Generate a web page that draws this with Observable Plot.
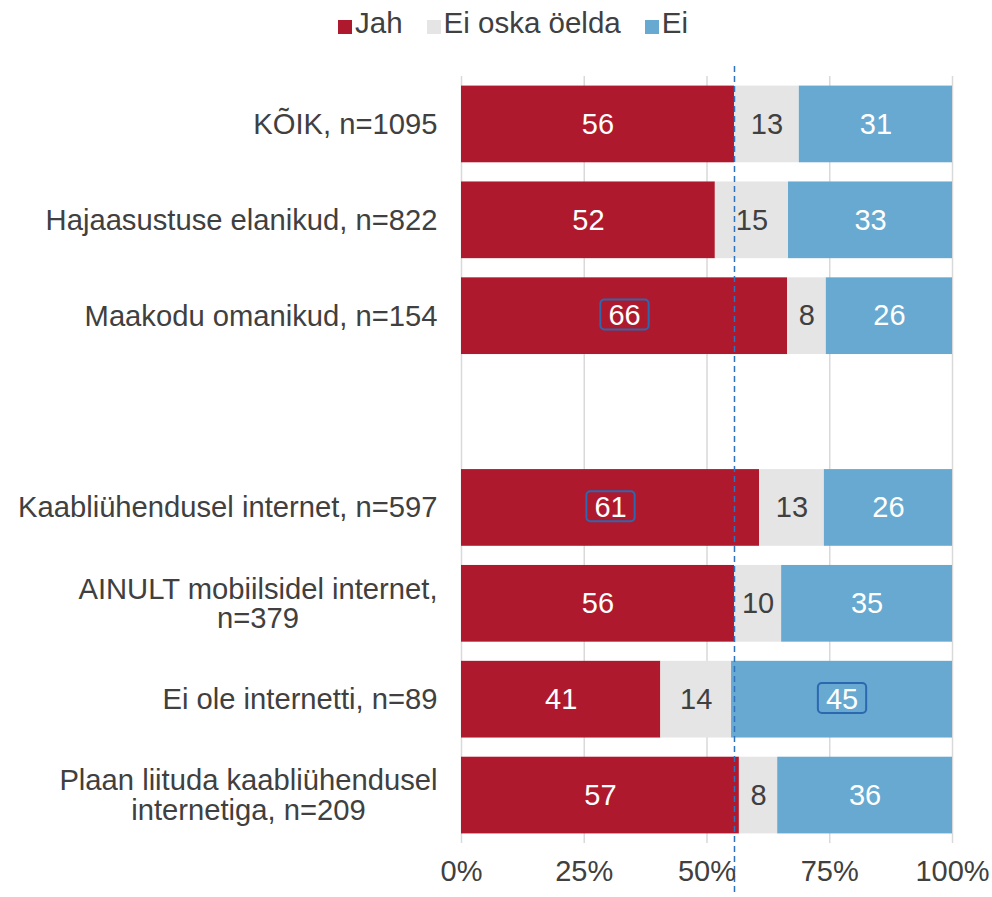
<!DOCTYPE html>
<html><head><meta charset="utf-8">
<script src="https://cdn.jsdelivr.net/npm/d3@7"></script>
<script src="https://cdn.jsdelivr.net/npm/@observablehq/plot@0.6"></script>
<style>
body{margin:0;background:#fff;font-family:"Liberation Sans",Arial,sans-serif;}
#legend{height:46px;display:flex;justify-content:center;align-items:center;padding-left:34px;font-size:29.5px;color:#404040;box-sizing:border-box;}
.item{display:flex;align-items:center;margin:0 12px;}
.sw{width:14px;height:14px;margin-right:3px;margin-top:7px}
#chart svg{display:block}
</style></head><body>
<div id="legend"></div>
<div id="chart"></div>
<script>
// ---- data ----
const categories = [
  "KÕIK, n=1095",
  "Hajaasustuse elanikud, n=822",
  "Maakodu omanikud, n=154",
  "",
  "Kaabliühendusel internet, n=597",
  "AINULT mobiilsidel internet,\nn=379",
  "Ei ole internetti, n=89",
  "Plaan liituda kaabliühendusel\ninternetiga, n=209"
];
const responses = ["Jah", "Ei oska öelda", "Ei"];
const colors = ["#AF192D", "#E5E5E5", "#67A9D0"];
const jah    = [55.6, 51.7, 66.4, null, 60.7, 55.6, 40.6, 56.6];
const eiOska = [13.2, 14.9,  7.9, null, 13.2,  9.6, 14.4,  7.8];
const ei     = [31.2, 33.4, 25.7, null, 26.1, 34.8, 45.0, 35.6];
const jahLabels    = [56, 52, 66, null, 61, 56, 41, 57];
const eiOskaLabels = [13, 15,  8, null, 13, 10, 14,  8];
const eiLabels     = [31, 33, 26, null, 26, 35, 45, 36];
const highlights = [
  ["Maakodu omanikud, n=154", "Jah"],
  ["Kaabliühendusel internet, n=597", "Jah"],
  ["Ei ole internetti, n=89", "Ei"]
];
const xTicks = [0, 25, 50, 75, 100];
const referenceValue = jah[0];

// ---- table ----
const series = [jah, eiOska, ei];
const labels = [jahLabels, eiOskaLabels, eiLabels];
const rows = [];
categories.forEach((c, i) => {
  if (jah[i] == null) return;
  responses.forEach((r, j) => rows.push({
    cat: c, resp: r, value: series[j][i], label: labels[j][i],
    hl: highlights.some(h => h[0] === c && h[1] === r)
  }));
});

// ---- legend ----
const leg = document.getElementById("legend");
responses.forEach((r, j) => {
  const it = document.createElement("div"); it.className = "item";
  const sw = document.createElement("div"); sw.className = "sw"; sw.style.background = colors[j];
  const tx = document.createElement("span"); tx.textContent = r;
  it.appendChild(sw); it.appendChild(tx); leg.appendChild(it);
});

const stackOpts = {x: "value", y: "cat", z: "resp", order: responses};
const chart = Plot.plot({
  width: 992, height: 851,
  marginLeft: 461, marginRight: 40, marginTop: 30, marginBottom: 54,
  style: {fontFamily: "'Liberation Sans', Arial, sans-serif", fontSize: "29px", color: "#404040", background: "#fff"},
  x: {domain: [0, 100], label: null},
  y: {domain: categories, paddingInner: 0.2, paddingOuter: 0.1, round: false, label: null},
  color: {domain: responses, range: colors},
  marks: [
    Plot.gridX(xTicks, {stroke: "#D9D9D9", strokeOpacity: 1, strokeWidth: 1.5}),
    Plot.barX(rows, {x: "value", y: "cat", fill: "resp", order: responses}),
    Plot.ruleX([referenceValue], {stroke: "#2F72BE", strokeWidth: 1.5, strokeDasharray: "6,4", insetTop: -10, insetBottom: -51}),
    Plot.text(rows, Plot.stackX({...stackOpts, text: d => (d.resp !== "Ei oska öelda" && !d.hl) ? String(d.label) : null, fill: "#fff", fontSize: 29})),
    Plot.text(rows, Plot.stackX({...stackOpts, text: d => d.resp === "Ei oska öelda" ? String(d.label) : null, fill: "#404040", fontSize: 29})),
    Plot.text(rows, Plot.stackX({...stackOpts, text: d => d.hl ? String(d.label) : null, fill: "#fff", fontSize: 29, ariaDescription: "highlight"})),
    Plot.axisX(xTicks, {tickSize: 0, tickPadding: 17, tickFormat: d => d + "%", fontSize: 29, fill: "#404040", label: null}),
    Plot.axisY({tickSize: 0, tickPadding: 24, lineHeight: 1.0, fontSize: 29.2, fill: "#404040", label: null})
  ]
});
document.getElementById("chart").appendChild(chart);

// center the lines of multi-line y labels within their block
chart.querySelectorAll('g[aria-label="y-axis tick label"] text').forEach(t => {
  const sp = t.querySelectorAll("tspan");
  if (sp.length < 2) return;
  const b = t.getBBox();
  t.setAttribute("text-anchor", "middle");
  sp.forEach(s => s.setAttribute("x", b.x + b.width / 2));
});
// rounded boxes around highlighted labels
chart.querySelectorAll('g[aria-description="highlight"] text').forEach(t => {
  const b = t.getBBox();
  const r = document.createElementNS("http://www.w3.org/2000/svg", "rect");
  const cy = b.y + b.height / 2 - 1;
  r.setAttribute("x", b.x - 8); r.setAttribute("width", b.width + 16);
  r.setAttribute("y", cy - 15); r.setAttribute("height", 30);
  r.setAttribute("rx", 4); r.setAttribute("fill", "none");
  r.setAttribute("stroke", "#2C68B0"); r.setAttribute("stroke-width", 2);
  if (t.getAttribute("transform")) r.setAttribute("transform", t.getAttribute("transform"));
  t.parentNode.insertBefore(r, t);
});
</script>
</body></html>
